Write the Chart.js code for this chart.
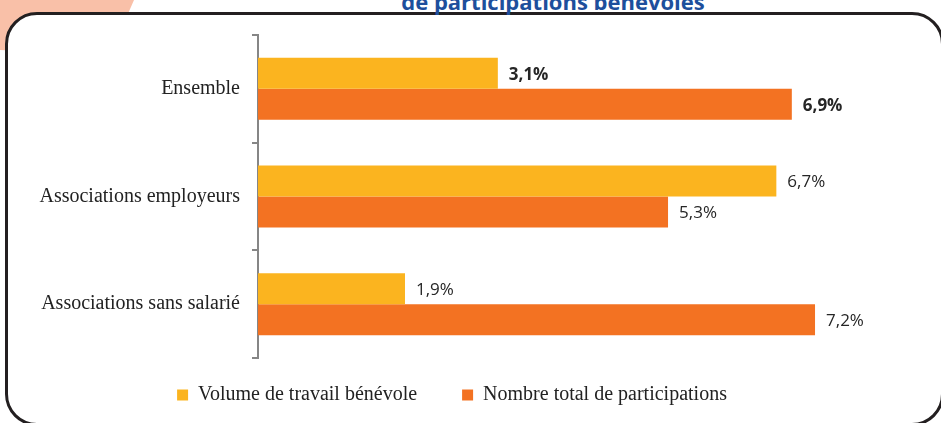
<!DOCTYPE html>
<html>
<head>
<meta charset="utf-8">
<script src="https://cdn.jsdelivr.net/npm/chart.js@4"></script>
<style>
  body { margin: 0; background: #fff; }
  #wrap { position: relative; width: 941px; height: 423px; overflow: hidden; background: #fff; }
  #corner { position: absolute; left: 0; top: 0; width: 140px; height: 60px; background: #f9c0a8;
            clip-path: polygon(0 0, 134px 0, 110px 55px, 0 50px); }
  #box { position: absolute; left: 5px; top: 12px; width: 939px; height: 414px; box-sizing: border-box;
         border: 3px solid #231f20; border-radius: 32px; background: #fff; }
  #title { position: absolute; left: 300px; width: 506px; top: -10px; text-align: center;
           font: bold 22px/22px "Open Sans", sans-serif; color: #1d4f9c; white-space: nowrap; }
  #chartBox { position: absolute; left: 0; top: 0; width: 941px; height: 423px; }
</style>
</head>
<body>
<div id="wrap">
  <div id="corner"></div>
  <div id="box"></div>
  <div id="title">de participations bénévoles</div>
  <div id="chartBox"><canvas id="chart"></canvas></div>
</div>
<script>
// Données
const categories = ['Ensemble', 'Associations employeurs', 'Associations sans salarié'];
const volumeTravail = [3.1, 6.7, 1.9];
const nombreParticipations = [6.9, 5.3, 7.2];
const seriesNames = ['Volume de travail bénévole', 'Nombre total de participations'];

// Étiquettes de valeurs à droite des barres
const valueLabels = {
    id: 'valueLabels',
    afterDatasetsDraw(chart) {
        const ctx = chart.ctx;
        ctx.save();
        ctx.fillStyle = '#262626';
        ctx.textAlign = 'left';
        ctx.textBaseline = 'middle';
        chart.data.datasets.forEach((ds, di) => {
            chart.getDatasetMeta(di).data.forEach((bar, i) => {
                ctx.font = (i === 0 ? 'bold ' : '') + '17px "Open Sans", sans-serif';
                const txt = ds.data[i].toFixed(1).replace('.', ',') + '%';
                ctx.fillText(txt, bar.x + 11, bar.y + 1.5);
            });
        });
        ctx.restore();
    }
};

// Remonter la légende sans toucher à la zone du graphique
const legendLift = {
    id: 'legendLift',
    afterLayout(chart) {
        chart.legend.top -= 18;
    }
};

new Chart(document.getElementById('chart'), {
    type: 'bar',
    data: {
        labels: categories,
        datasets: [
            {
                label: seriesNames[0],
                data: volumeTravail,
                backgroundColor: '#fbb41f',
                categoryPercentage: 0.576,
                barPercentage: 1
            },
            {
                label: seriesNames[1],
                data: nombreParticipations,
                backgroundColor: '#f37222',
                categoryPercentage: 0.576,
                barPercentage: 1
            }
        ]
    },
    options: {
        indexAxis: 'y',
        responsive: true,
        maintainAspectRatio: false,
        animation: false,
        layout: { padding: { top: 35, left: 0, right: 37, bottom: 0 } },
        plugins: {
            legend: {
                position: 'bottom',
                maxHeight: 65,
                labels: {
                    boxWidth: 11,
                    boxHeight: 11,
                    padding: 45,
                    color: '#222',
                    font: { family: '"Liberation Serif", serif', size: 20 }
                }
            },
            tooltip: { enabled: false }
        },
        scales: {
            x: {
                display: false,
                min: 0,
                max: 8.35
            },
            y: {
                afterFit(scale) { scale.width = 258; },
                border: { display: true, color: '#868686', width: 2 },
                grid: {
                    drawOnChartArea: false,
                    drawTicks: true,
                    tickLength: 6,
                    color: '#868686',
                    lineWidth: 2
                },
                ticks: {
                    padding: 12,
                    color: '#222',
                    font: { family: '"Liberation Serif", serif', size: 20 }
                }
            }
        }
    },
    plugins: [valueLabels, legendLift]
});
</script>
</body>
</html>
